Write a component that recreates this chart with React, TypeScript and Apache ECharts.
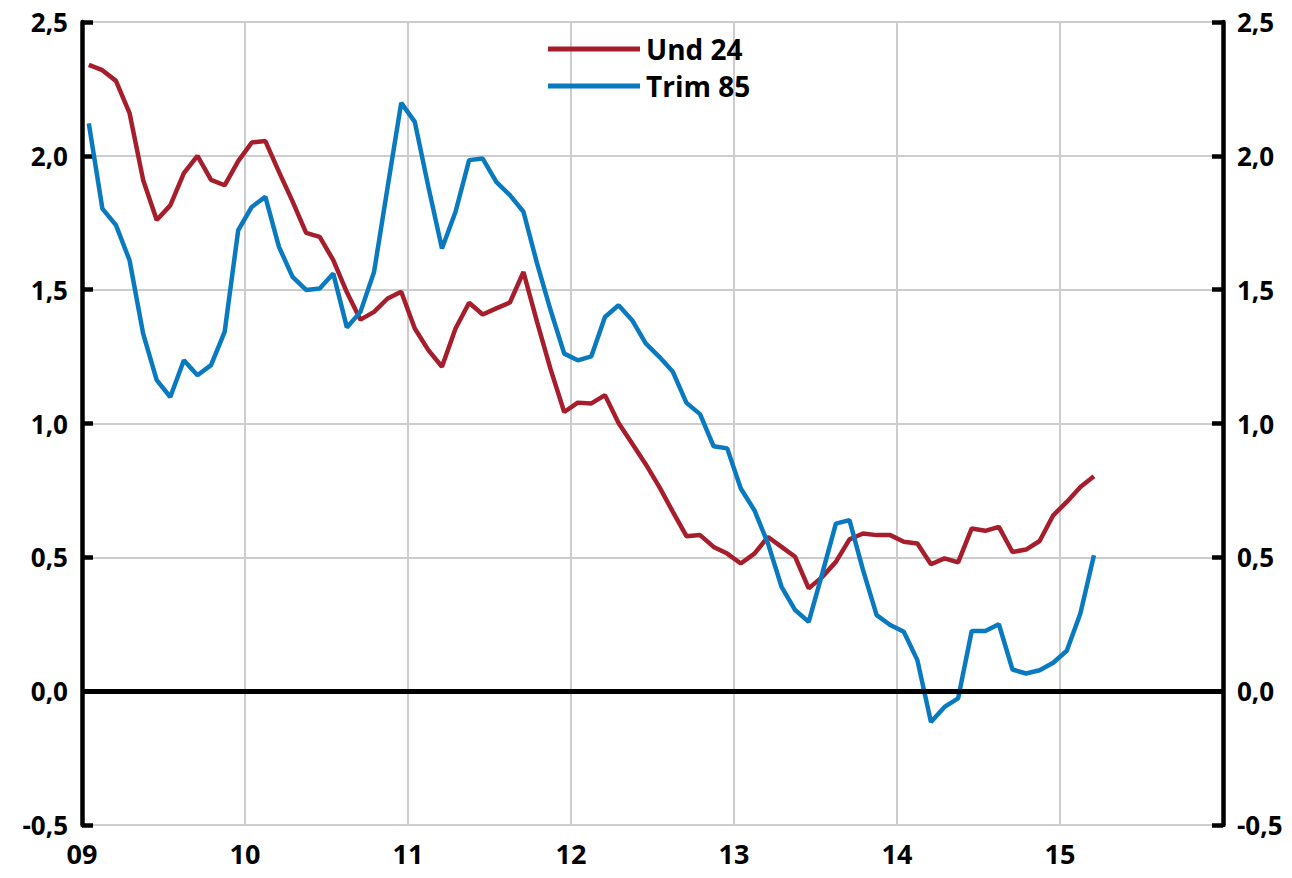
import React, { useEffect, useRef } from "react";
import * as echarts from "echarts";

const seriesNames = ["Und 24", "Trim 85"];
const startYear = 2009;
const endYear = 2016;

// Monthly values, Jan 2009 - Mar 2015
const und24 = [
  2.34, 2.32, 2.28, 2.16, 1.91, 1.76, 1.815, 1.935, 2.0, 1.91, 1.89, 1.98,
  2.05, 2.055, 1.94, 1.83, 1.712, 1.697, 1.61, 1.49, 1.388, 1.417, 1.467, 1.492,
  1.355, 1.274, 1.212, 1.355, 1.451, 1.407, 1.43, 1.452, 1.566, 1.38, 1.202, 1.043,
  1.078, 1.075, 1.106, 1.002, 0.925, 0.848, 0.763, 0.67, 0.579, 0.583, 0.539, 0.514,
  0.477, 0.514, 0.576, 0.539, 0.502, 0.384, 0.427, 0.483, 0.567, 0.589, 0.583, 0.583,
  0.558, 0.552, 0.474, 0.496, 0.481, 0.608, 0.599, 0.614, 0.52, 0.529, 0.561, 0.657,
  0.707, 0.763, 0.803,
];
const trim85 = [
  2.121, 1.803, 1.741, 1.61, 1.336, 1.162, 1.099, 1.236, 1.18, 1.218, 1.342, 1.722,
  1.809, 1.847, 1.66, 1.548, 1.499, 1.504, 1.56, 1.359, 1.417, 1.566, 1.883, 2.198,
  2.127, 1.884, 1.654, 1.791, 1.984, 1.99, 1.903, 1.853, 1.791, 1.598, 1.423, 1.261,
  1.236, 1.251, 1.398, 1.442, 1.386, 1.299, 1.249, 1.193, 1.077, 1.035, 0.915, 0.907,
  0.757, 0.676, 0.552, 0.39, 0.303, 0.259, 0.44, 0.626, 0.639, 0.452, 0.284, 0.247,
  0.222, 0.116, -0.115, -0.059, -0.027, 0.225, 0.225, 0.25, 0.081, 0.066, 0.078, 0.106,
  0.151, 0.29, 0.508,
];
const yTicks = { min: -0.5, max: 2.5, interval: 0.5 };

const RED = "#A61E2B";
const BLUE = "#0A7AC0";
const FONT = "'Open Sans', 'Noto Sans', sans-serif";

function toPoints(values: number[]) {
  return values.map((v, i) => [i + 0.5, v]);
}

export default function App() {
  const ref = useRef<HTMLDivElement>(null);
  useEffect(() => {
    document.body.style.margin = "0";
    const chart = echarts.init(ref.current!, undefined, { renderer: "svg" });
    const yLabel = (v: number) => v.toFixed(1).replace(".", ",");
    const yAxisBase = {
      type: "value" as const,
      min: yTicks.min,
      max: yTicks.max,
      interval: yTicks.interval,
      axisLine: { show: true, lineStyle: { color: "#000", width: 4.5 } },
      axisTick: { show: true, inside: true, length: 11, lineStyle: { color: "#000", width: 4.5 } },
      axisLabel: {
        formatter: yLabel,
        color: "#000",
        fontSize: 26,
        fontWeight: "bold" as const,
        fontFamily: FONT,
        margin: 14,
      },
    };
    chart.setOption({
      animation: false,
      backgroundColor: "#fff",
      grid: { left: 82, right: 69, top: 22, bottom: 53, containLabel: false },
      legend: {
        orient: "vertical",
        left: 543,
        top: 28,
        icon: "rect",
        itemWidth: 92,
        itemHeight: 5,
        itemGap: 5,
        data: seriesNames,
        textStyle: {
          color: "#000",
          fontSize: 28,
          fontWeight: "bold",
          fontFamily: FONT,
          lineHeight: 32,
          padding: [0, 0, 0, 1],
        },
      },
      xAxis: {
        type: "value",
        min: 0,
        max: (endYear - startYear) * 12,
        interval: 12,
        axisLine: { show: false },
        axisTick: { show: false },
        splitLine: { show: true, lineStyle: { color: "#CDCDCD", width: 2 } },
        axisLabel: {
          showMaxLabel: false,
          formatter: (v: number) => String((startYear + v / 12) % 100).padStart(2, "0"),
          color: "#000",
          fontSize: 27,
          fontWeight: "bold",
          fontFamily: FONT,
          margin: 15,
        },
      },
      yAxis: [
        {
          ...yAxisBase,
          position: "left",
          splitLine: { show: true, lineStyle: { color: "#CDCDCD", width: 2 } },
        },
        {
          ...yAxisBase,
          position: "right",
          splitLine: { show: false },
        },
      ],
      series: [
        {
          name: seriesNames[0],
          type: "line",
          data: toPoints(und24),
          symbol: "none",
          lineStyle: { color: RED, width: 4.5 },
          itemStyle: { color: RED },
          z: 3,
          markLine: {
            silent: true,
            symbol: "none",
            label: { show: false },
            lineStyle: { color: "#000", width: 5, type: "solid" },
            data: [{ yAxis: 0 }],
          },
        },
        {
          name: seriesNames[1],
          type: "line",
          data: toPoints(trim85),
          symbol: "none",
          lineStyle: { color: BLUE, width: 4.5 },
          itemStyle: { color: BLUE },
          z: 4,
        },
      ],
    });
    return () => chart.dispose();
  }, []);
  return (
    <div
      ref={ref}
      style={{ position: "fixed", left: 0, top: 0, width: 1292, height: 878, background: "#fff" }}
    />
  );
}
